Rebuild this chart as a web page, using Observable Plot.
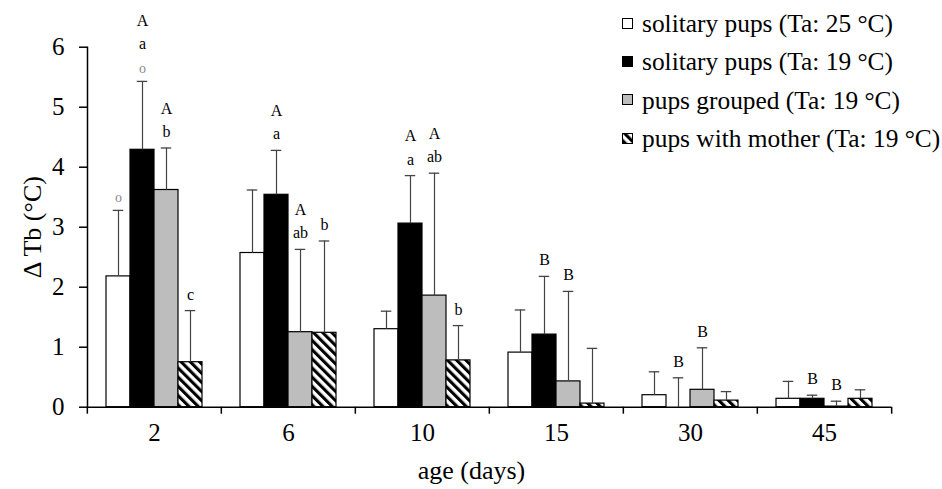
<!DOCTYPE html>
<html>
<head>
<meta charset="utf-8">
<script src="https://cdn.jsdelivr.net/npm/d3@7"></script>
<script src="https://cdn.jsdelivr.net/npm/@observablehq/plot@0.6"></script>
<style>
  body { margin: 0; background: #fff; }
  #wrap { position: relative; width: 942px; height: 489px; font-family: "Liberation Serif", "Times New Roman", serif; }
  #legend { position: absolute; left: 622px; top: 4px; font-size: 25.4px; line-height: 38.3px; color: #000; z-index: 2; }
  .item { display: flex; align-items: center; white-space: nowrap; height: 38.3px; }
  .sw { width: 11px; height: 11px; margin-right: 9px; flex: none; display: block; }
</style>
</head>
<body>
<svg width="0" height="0" style="position:absolute">
  <defs>
    <pattern id="hatch" patternUnits="userSpaceOnUse" width="6.5" height="6.5" patternTransform="rotate(-45)">
      <rect width="6.5" height="6.5" fill="#fff"></rect>
      <rect width="3.1" height="6.5" fill="#000"></rect>
    </pattern>
  </defs>
</svg>
<div id="wrap"><div id="legend"></div></div>
<script>
// ---- data ----
const ages = ["2", "6", "10", "15", "30", "45"];
const seriesNames = [
  "solitary pups (Ta: 25 °C)",
  "solitary pups (Ta: 19 °C)",
  "pups grouped (Ta: 19 °C)",
  "pups with mother (Ta: 19 °C)"
];
const seriesFills = ["#ffffff", "#000000", "#bdbdbd", "url(#hatch)"];
const yTicks = [0, 1, 2, 3, 4, 5, 6];

const meanSolitary25 = [2.18, 2.57, 1.30, 0.91, 0.20, 0.14];
const meanSolitary19 = [4.29, 3.54, 3.06, 1.21, 0.00, 0.14];
const meanGrouped19  = [3.62, 1.25, 1.86, 0.43, 0.29, 0.01];
const meanMother19   = [0.75, 1.24, 0.78, 0.06, 0.11, 0.14];

const sdSolitary25 = [1.10, 1.05, 0.30, 0.71, 0.39, 0.29];
const sdSolitary19 = [1.14, 0.74, 0.80, 0.97, 0.49, 0.06];
const sdGrouped19  = [0.70, 1.38, 2.04, 1.50, 0.70, 0.09];
const sdMother19   = [0.86, 1.53, 0.58, 0.92, 0.15, 0.15];

const lettersSolitary25 = ["", "", "", "", "", ""];
const lettersSolitary19 = ["A\na", "A\na", "A\na", "B", "B", "B"];
const lettersGrouped19  = ["A\nb", "A\nab", "A\nab", "B", "B", "B"];
const lettersMother19   = ["c", "b", "b", "", "", ""];

const circleSolitary25 = ["o", "", "", "", "", ""];
const circleSolitary19 = ["o", "", "", "", "", ""];
const circleGrouped19  = ["", "", "", "", "", ""];
const circleMother19   = ["", "", "", "", "", ""];

const xTitle = "age (days)";
const yTitle = "Δ Tb (°C)";

// ---- build table ----
const meansBy = [meanSolitary25, meanSolitary19, meanGrouped19, meanMother19];
const sdsBy = [sdSolitary25, sdSolitary19, sdGrouped19, sdMother19];
const lettersBy = [lettersSolitary25, lettersSolitary19, lettersGrouped19, lettersMother19];
const circlesBy = [circleSolitary25, circleSolitary19, circleGrouped19, circleMother19];

const rows = [];
seriesNames.forEach((s, j) => {
  ages.forEach((a, i) => {
    rows.push({
      age: a, series: s,
      mean: meansBy[j][i], sd: sdsBy[j][i],
      top: meansBy[j][i] + sdsBy[j][i],
      letters: lettersBy[j][i], circle: circlesBy[j][i]
    });
  });
});

const W = 942, H = 489, mL = 86, mR = 50, mT = 46.7, mB = 82.3;
const halfStep = (W - mL - mR) / ages.length / 2;
const serifStack = "'Liberation Serif', 'Times New Roman', serif";

const plot = Plot.plot({
  width: W, height: H,
  marginLeft: mL, marginRight: mR, marginTop: mT, marginBottom: mB,
  style: { fontFamily: serifStack, fontSize: "25px", color: "#000", background: "transparent", overflow: "visible" },
  fx: { domain: ages, padding: 0, label: null },
  x: { domain: seriesNames, paddingInner: 0, paddingOuter: 0.74, axis: null, label: null },
  y: { domain: [0, 6], label: null },
  color: { domain: seriesNames, range: seriesFills },
  marks: [
    Plot.barY(rows, { fx: "age", x: "series", y: "mean", fill: "series", stroke: "#000", strokeWidth: 1.2 }),
    Plot.ruleX(rows, { fx: "age", x: "series", y1: "mean", y2: "top", stroke: "#444", strokeWidth: 1.2 }),
    Plot.tickY(rows, { fx: "age", x: "series", y: "top", stroke: "#444", strokeWidth: 1.3, insetLeft: 6.75, insetRight: 6.75 }),
    Plot.text(rows.filter(d => d.circle), { fx: "age", x: "series", y: "top", text: "circle", fill: "#8a8a8a", fontSize: 14, lineAnchor: "bottom", dy: -8 }),
    Plot.text(rows.filter(d => d.letters && !d.circle), { fx: "age", x: "series", y: "top", text: "letters", fontSize: 16, lineAnchor: "bottom", lineHeight: 1.45, dy: -11 }),
    Plot.text(rows.filter(d => d.letters && d.circle), { fx: "age", x: "series", y: "top", text: "letters", fontSize: 16, lineAnchor: "bottom", lineHeight: 1.45, dy: -32 }),
    Plot.axisY({ ticks: yTicks, tickFormat: "d", tickSize: 8, tickPadding: 15, strokeWidth: 1.5, label: null }),
    Plot.frame({ anchor: "left", facetAnchor: "left", strokeWidth: 1.5 }),
    Plot.ruleY([0], { strokeWidth: 1.5 }),
    Plot.axisFx({ anchor: "bottom", tickSize: 0, tickPadding: 16, label: null }),
    Plot.text([xTitle], { fx: () => ages[2], frameAnchor: "bottom-right", textAnchor: "middle", lineAnchor: "bottom", dx: -18, dy: 72, fontSize: 26 }),
    Plot.axisFx({ anchor: "bottom", tickSize: 7, tickFormat: () => "", strokeWidth: 1.5, label: null, dx: -halfStep }),
    Plot.axisFx({ anchor: "bottom", ticks: [ages[ages.length - 1]], tickSize: 7, tickFormat: () => "", strokeWidth: 1.5, label: null, dx: halfStep }),
    Plot.text([yTitle], { frameAnchor: "left", facetAnchor: "left", rotate: -90, dx: -55, fontSize: 26, textAnchor: "middle" })
  ]
});
document.getElementById("wrap").appendChild(plot);

// ---- legend ----
const legend = document.getElementById("legend");
seriesNames.forEach((s, j) => {
  const item = document.createElement("div");
  item.className = "item";
  item.innerHTML = `<svg class="sw" width="11" height="11"><rect x="0.5" y="0.5" width="10" height="10" fill="${seriesFills[j]}" stroke="#000" stroke-width="1"></rect></svg><span>${s}</span>`;
  legend.appendChild(item);
});
</script>
</body>
</html>
